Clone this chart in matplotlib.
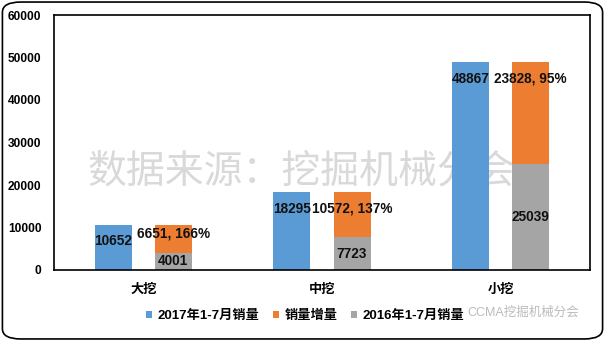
import matplotlib.pyplot as plt
import numpy as np
from matplotlib.patches import FancyBboxPatch

# 数据
categories = ['大挖', '中挖', '小挖']
sales_2017 = [10652, 18295, 48867]
sales_2016 = [4001, 7723, 25039]
increase = [6651, 10572, 23828]
increase_pct = ['166%', '137%', '95%']

plt.rcParams['font.family'] = ['Liberation Sans', 'Noto Sans CJK SC']

fig = plt.figure(figsize=(6.05, 3.41), dpi=100)
ax = fig.add_axes([54 / 605, 71 / 341, 536 / 605, 255 / 341])

x = np.arange(len(categories))
w = 0.207
off = 0.168

c_blue = '#5B9BD5'
c_orange = '#ED7D31'
c_gray = '#A5A5A5'

# 水印
ax.text(0.885, 23000, '数据来源：挖掘机械分会', fontsize=28, color='#d9d9d9',
        ha='center', va='center', zorder=0)

b1 = ax.bar(x - off, sales_2017, w, color=c_blue, label='2017年1-7月销量', zorder=2)
b3 = ax.bar(x + off, sales_2016, w, color=c_gray, label='2016年1-7月销量', zorder=2)
b2 = ax.bar(x + off, increase, w, bottom=sales_2016, color=c_orange, label='销量增量', zorder=2)

lab_kw = dict(fontsize=9.8, fontweight='bold', color='#111111', ha='center', va='center', zorder=3)
for i in range(len(categories)):
    ax.annotate(str(sales_2017[i]), (x[i] - off, sales_2017[i]), xytext=(0, -12),
                textcoords='offset points', **lab_kw)
    top = sales_2016[i] + increase[i]
    dy = -6 if i == 0 else -12
    ax.annotate('%d, %s' % (increase[i], increase_pct[i]), (x[i] + off, top), xytext=(0, dy),
                textcoords='offset points', **lab_kw)
    ax.text(x[i] + off, sales_2016[i] / 2, str(sales_2016[i]), **lab_kw)

ax.set_xlim(-0.5, 2.5)
ax.set_ylim(0, 60000)
ax.set_yticks(range(0, 60001, 10000))
ax.set_xticks(x)
ax.set_xticklabels(categories, fontsize=9.5, fontweight='bold')
for t in ax.get_yticklabels():
    t.set_fontsize(8.6)
    t.set_fontweight('bold')
ax.tick_params(length=0)
ax.tick_params(axis='y', pad=9)
ax.tick_params(axis='x', pad=10)
for s in ax.spines.values():
    s.set_color('black')
    s.set_linewidth(1.2)

handles = [b1, b2, b3]
fig.legend(handles, [h.get_label() for h in handles], loc='center', bbox_to_anchor=(305 / 605, 1 - 316 / 341),
           ncol=3, frameon=False, prop={'size': 9.5, 'weight': 'bold'},
           handlelength=0.5, handleheight=0.5, handletextpad=0.4, columnspacing=1.0)

# 右下角水印
fig.text(523 / 605, 1 - 313 / 341, 'CCMA挖掘机械分会', fontsize=9, color='#aaaaaa',
         ha='center', va='center', alpha=0.8)

# 外框
frame = FancyBboxPatch((0.004, 0.006), 0.992, 0.988, boxstyle='round,pad=0,rounding_size=0.03',
                       transform=fig.transFigure, fill=False, edgecolor='black', linewidth=1.2)
fig.patches.append(frame)

plt.savefig('out.png', dpi=100)
